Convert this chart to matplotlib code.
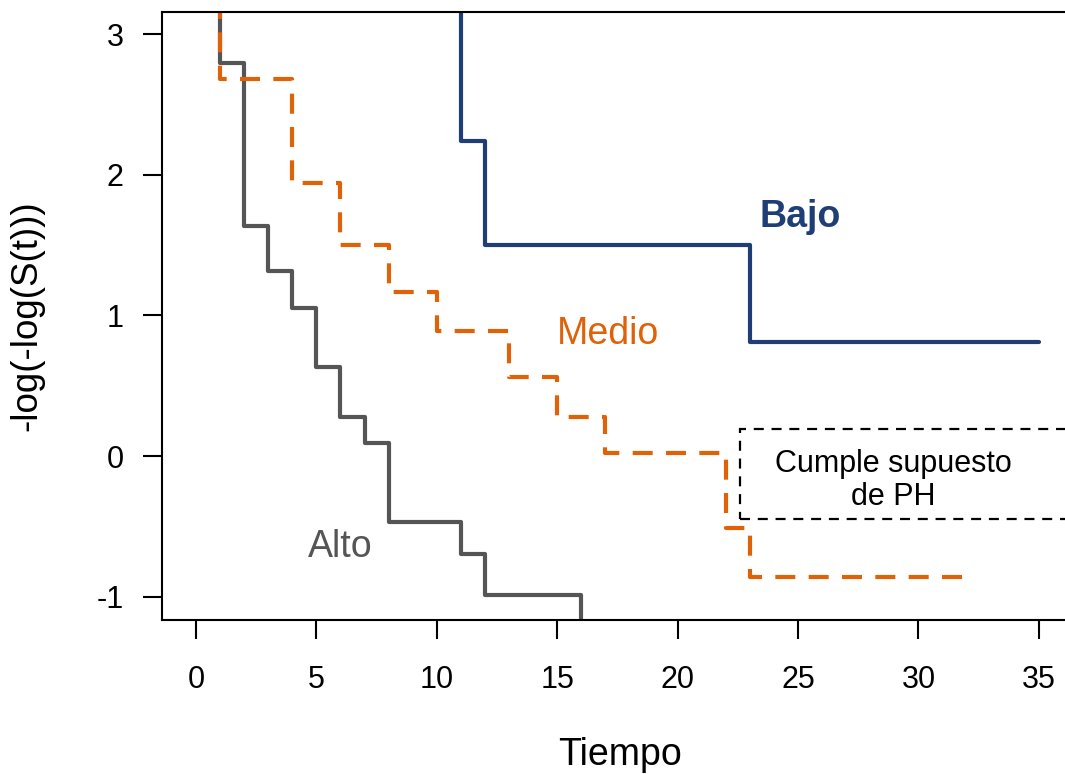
import matplotlib
matplotlib.use("Agg")
import matplotlib.pyplot as plt
from matplotlib.patches import Rectangle

plt.rcParams['font.family'] = ['Liberation Sans', 'DejaVu Sans']
plt.rcParams['axes.unicode_minus'] = False

# -log(-log(S(t))) por grupo; el primer valor (t=0) queda fuera del grafico (S=1 -> inf)
bajo_t = [0, 11, 12, 23, 35]
bajo_y = [5.0, 2.24, 1.50, 0.81, 0.81]

medio_t = [0, 1, 4, 6, 8, 10, 13, 15, 17, 22, 23, 32]
medio_y = [5.0, 2.68, 1.94, 1.50, 1.17, 0.89, 0.56, 0.28, 0.02, -0.51, -0.86, -0.86]

alto_t = [0, 1, 2, 3, 4, 5, 6, 7, 8, 11, 12, 16]
alto_y = [5.0, 2.80, 1.64, 1.32, 1.05, 0.635, 0.28, 0.095, -0.47, -0.70, -0.99, -3.0]

x_ticks = [0, 5, 10, 15, 20, 25, 30, 35]
y_ticks = [-1, 0, 1, 2, 3]

c_bajo = '#1F3E75'
c_medio = '#DF6208'
c_alto = '#555555'

fig = plt.figure(figsize=(10.65, 7.74), dpi=100)
ax = fig.add_axes([0.1521, 0.1990, 0.8598, 0.7855])

ax.plot(alto_t, alto_y, drawstyle='steps-post', color=c_alto, lw=3, solid_capstyle='round')
ax.plot(medio_t, medio_y, drawstyle='steps-post', color=c_medio, lw=3,
        linestyle=(0, (4.8, 3.2)), dash_capstyle='butt')
ax.plot(bajo_t, bajo_y, drawstyle='steps-post', color=c_bajo, lw=3, solid_capstyle='round')

ax.text(25.1, 1.70, 'Bajo', color=c_bajo, fontsize=27, fontweight='bold', ha='center', va='center')
ax.text(17.1, 0.87, 'Medio', color=c_medio, fontsize=27, ha='center', va='center')
ax.text(6.0, -0.65, 'Alto', color=c_alto, fontsize=27, ha='center', va='center')

box = Rectangle((22.58, -0.45), 20, 0.64, fill=False, edgecolor='black', lw=1.6,
                linestyle=(0, (4.5, 3.5)))
ax.add_patch(box)
ax.text(28.95, -0.175, 'Cumple supuesto\nde PH', fontsize=22, ha='center', va='center',
        multialignment='center', linespacing=1.15)

ax.set_xlim(-1.41, 36.61)
ax.set_ylim(-1.167, 3.16)
ax.set_xticks(x_ticks)
ax.set_yticks(y_ticks)
ax.tick_params(direction='out', length=13.7, width=1.5, labelsize=22, colors='black')
ax.tick_params(axis='x', pad=19)
ax.tick_params(axis='y', pad=14)
for s in ax.spines.values():
    s.set_linewidth(1.5)

ax.set_xlabel('Tiempo', fontsize=27)
ax.set_ylabel('-log(-log(S(t)))', fontsize=26.5)
ax.xaxis.label.set_va('baseline')
ax.xaxis.set_label_coords(0.5, -0.2385)
ax.yaxis.set_label_coords(-0.137, 0.5)
ax.yaxis.label.set_va('baseline')

plt.savefig('out.png', dpi=100)
